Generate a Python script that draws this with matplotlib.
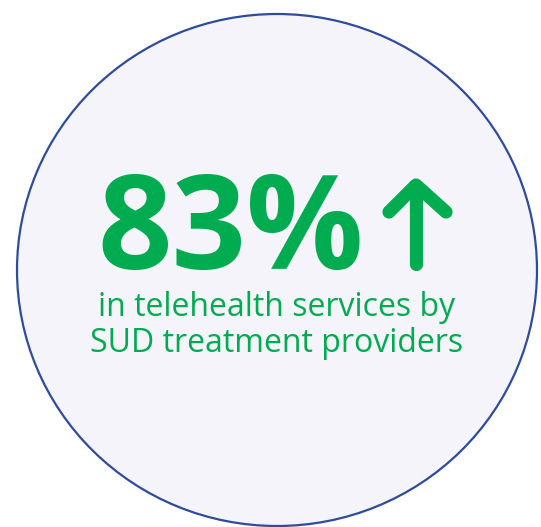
import matplotlib.pyplot as plt
from matplotlib.patches import Ellipse

# content
headline = "83%"
label_lines = ["in telehealth services by", "SUD treatment providers"]

GREEN = "#00ac4f"
RING = "#2f4c9c"
FILL = "#f4f4fa"

fig = plt.figure(figsize=(5.41, 5.27), dpi=100)
ax = fig.add_axes([0, 0, 1, 1])
ax.set_xlim(0, 541)
ax.set_ylim(527, 0)
ax.axis("off")

# background circle
ax.add_patch(Ellipse((277, 270), 520, 512, facecolor=FILL, edgecolor=RING, linewidth=1.6))

# big number
ax.text(231, 269, headline, color=GREEN, fontsize=94, fontweight="bold",
        family="Open Sans", ha="center", va="baseline")

# up arrow
ax.plot([416, 416], [264, 186], color=GREEN, lw=9.5, solid_capstyle="round")
ax.plot([389, 416, 446], [212, 185, 212], color=GREEN, lw=9.5,
        solid_capstyle="round", solid_joinstyle="round")

# label
ax.text(277, 316, label_lines[0], color=GREEN, fontsize=23, family="Open Sans",
        ha="center", va="baseline")
ax.text(277, 352, label_lines[1], color=GREEN, fontsize=23, family="Open Sans",
        ha="center", va="baseline")

fig.savefig("out.png", dpi=100)
